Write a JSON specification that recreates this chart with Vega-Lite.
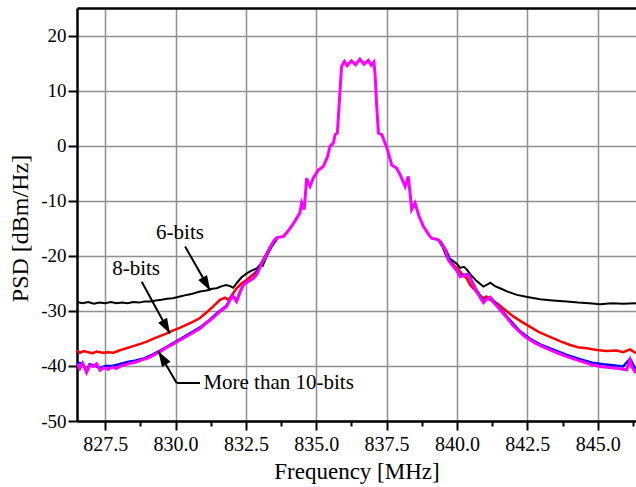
{
  "$schema": "https://vega.github.io/schema/vega-lite/v6.json",
  "width": 559,
  "height": 413,
  "autosize": "none",
  "padding": {"left": 77, "top": 8, "right": 0, "bottom": 66},
  "background": "white",
  "config": {"view": {"stroke": null}, "font": "Liberation Serif"},
  "datasets": {
    "curves": [
      {"s":"k","g":"L","f":826.5,"v":-28.4},{"s":"k","g":"L","f":826.7,"v":-28.6},{"s":"k","g":"L","f":826.9,"v":-28.4},{"s":"k","g":"L","f":827.1,"v":-28.7},{"s":"k","g":"L","f":827.3,"v":-28.5},{"s":"k","g":"L","f":827.5,"v":-28.6},{"s":"k","g":"L","f":827.7,"v":-28.4},{"s":"k","g":"L","f":827.9,"v":-28.6},{"s":"k","g":"L","f":828.1,"v":-28.5},{"s":"k","g":"L","f":828.3,"v":-28.6},{"s":"k","g":"L","f":828.5,"v":-28.4},{"s":"k","g":"L","f":828.7,"v":-28.5},{"s":"k","g":"L","f":828.9,"v":-28.3},{"s":"k","g":"L","f":829.1,"v":-28.3},{"s":"k","g":"L","f":829.3,"v":-28.1},{"s":"k","g":"L","f":829.5,"v":-28.0},{"s":"k","g":"L","f":829.7,"v":-27.8},{"s":"k","g":"L","f":829.9,"v":-27.7},{"s":"k","g":"L","f":830.16,"v":-27.4},{"s":"k","g":"L","f":830.4,"v":-27.1},{"s":"k","g":"L","f":830.6,"v":-26.9},{"s":"k","g":"L","f":830.87,"v":-26.5},{"s":"k","g":"L","f":831.1,"v":-26.3},{"s":"k","g":"L","f":831.3,"v":-26.0},{"s":"k","g":"L","f":831.46,"v":-25.9},{"s":"k","g":"L","f":831.65,"v":-25.5},{"s":"k","g":"L","f":831.8,"v":-25.3},{"s":"k","g":"L","f":831.94,"v":-25.5},{"s":"k","g":"L","f":832.05,"v":-25.8},{"s":"k","g":"L","f":832.2,"v":-24.8},{"s":"k","g":"L","f":832.35,"v":-23.9},{"s":"k","g":"L","f":832.53,"v":-23.2},{"s":"k","g":"L","f":832.7,"v":-22.7},{"s":"k","g":"L","f":832.89,"v":-22.3},{"s":"k","g":"L","f":833.0,"v":-21.6},{"s":"k","g":"L","f":833.1,"v":-21.8},{"s":"k","g":"L","f":833.24,"v":-20.1},{"s":"k","g":"L","f":833.4,"v":-18.5},{"s":"k","g":"L","f":833.6,"v":-17.0},
      {"s":"k","g":"R","f":839.35,"v":-17.2},{"s":"k","g":"R","f":839.5,"v":-18.5},{"s":"k","g":"R","f":839.64,"v":-20.3},{"s":"k","g":"R","f":839.8,"v":-20.7},{"s":"k","g":"R","f":840.0,"v":-21.5},{"s":"k","g":"R","f":840.11,"v":-22.2},{"s":"k","g":"R","f":840.25,"v":-22.0},{"s":"k","g":"R","f":840.35,"v":-22.5},{"s":"k","g":"R","f":840.5,"v":-23.5},{"s":"k","g":"R","f":840.7,"v":-24.6},{"s":"k","g":"R","f":840.94,"v":-25.6},{"s":"k","g":"R","f":841.05,"v":-25.3},{"s":"k","g":"R","f":841.18,"v":-24.9},{"s":"k","g":"R","f":841.35,"v":-25.5},{"s":"k","g":"R","f":841.53,"v":-25.9},{"s":"k","g":"R","f":841.8,"v":-26.5},{"s":"k","g":"R","f":842.13,"v":-27.1},{"s":"k","g":"R","f":842.5,"v":-27.5},{"s":"k","g":"R","f":842.95,"v":-27.9},{"s":"k","g":"R","f":843.4,"v":-28.1},{"s":"k","g":"R","f":843.9,"v":-28.3},{"s":"k","g":"R","f":844.3,"v":-28.5},{"s":"k","g":"R","f":844.7,"v":-28.6},{"s":"k","g":"R","f":845.09,"v":-28.8},{"s":"k","g":"R","f":845.5,"v":-28.6},{"s":"k","g":"R","f":845.9,"v":-28.7},{"s":"k","g":"R","f":846.36,"v":-28.6},

      {"s":"r","g":"L","f":826.5,"v":-37.2},{"s":"r","g":"L","f":826.6,"v":-37.6},{"s":"r","g":"L","f":826.75,"v":-37.3},{"s":"r","g":"L","f":826.9,"v":-37.5},{"s":"r","g":"L","f":827.05,"v":-37.7},{"s":"r","g":"L","f":827.2,"v":-37.4},{"s":"r","g":"L","f":827.4,"v":-37.6},{"s":"r","g":"L","f":827.6,"v":-37.5},{"s":"r","g":"L","f":827.8,"v":-37.6},{"s":"r","g":"L","f":828.0,"v":-37.2},{"s":"r","g":"L","f":828.26,"v":-36.8},{"s":"r","g":"L","f":828.5,"v":-36.4},{"s":"r","g":"L","f":828.75,"v":-36.0},{"s":"r","g":"L","f":828.98,"v":-35.6},{"s":"r","g":"L","f":829.2,"v":-35.1},{"s":"r","g":"L","f":829.45,"v":-34.6},{"s":"r","g":"L","f":829.69,"v":-34.1},{"s":"r","g":"L","f":829.9,"v":-33.6},{"s":"r","g":"L","f":830.15,"v":-33.1},{"s":"r","g":"L","f":830.4,"v":-32.5},{"s":"r","g":"L","f":830.65,"v":-31.9},{"s":"r","g":"L","f":830.87,"v":-31.3},{"s":"r","g":"L","f":831.1,"v":-30.3},{"s":"r","g":"L","f":831.34,"v":-29.2},{"s":"r","g":"L","f":831.58,"v":-28.0},{"s":"r","g":"L","f":831.76,"v":-27.6},{"s":"r","g":"L","f":831.88,"v":-28.0},{"s":"r","g":"L","f":832.0,"v":-27.2},{"s":"r","g":"L","f":832.17,"v":-25.9},{"s":"r","g":"L","f":832.35,"v":-25.0},{"s":"r","g":"L","f":832.53,"v":-24.4},{"s":"r","g":"L","f":832.7,"v":-23.6},{"s":"r","g":"L","f":832.89,"v":-22.8},{"s":"r","g":"L","f":833.05,"v":-21.4},{"s":"r","g":"L","f":833.2,"v":-20.0},{"s":"r","g":"L","f":833.36,"v":-18.4},{"s":"r","g":"L","f":833.6,"v":-16.9},
      {"s":"r","g":"R","f":839.4,"v":-17.4},{"s":"r","g":"R","f":839.6,"v":-18.9},{"s":"r","g":"R","f":839.75,"v":-20.8},{"s":"r","g":"R","f":839.9,"v":-21.8},{"s":"r","g":"R","f":840.05,"v":-22.5},{"s":"r","g":"R","f":840.2,"v":-23.4},{"s":"r","g":"R","f":840.35,"v":-24.1},{"s":"r","g":"R","f":840.47,"v":-25.3},{"s":"r","g":"R","f":840.65,"v":-26.3},{"s":"r","g":"R","f":840.8,"v":-27.2},{"s":"r","g":"R","f":840.94,"v":-27.7},{"s":"r","g":"R","f":841.05,"v":-27.4},{"s":"r","g":"R","f":841.18,"v":-28.0},{"s":"r","g":"R","f":841.41,"v":-28.6},{"s":"r","g":"R","f":841.7,"v":-29.8},{"s":"r","g":"R","f":842.0,"v":-31.0},{"s":"r","g":"R","f":842.3,"v":-32.0},{"s":"r","g":"R","f":842.6,"v":-32.9},{"s":"r","g":"R","f":842.9,"v":-33.8},{"s":"r","g":"R","f":843.2,"v":-34.5},{"s":"r","g":"R","f":843.43,"v":-35.0},{"s":"r","g":"R","f":843.7,"v":-35.6},{"s":"r","g":"R","f":844.02,"v":-36.2},{"s":"r","g":"R","f":844.3,"v":-36.6},{"s":"r","g":"R","f":844.6,"v":-36.8},{"s":"r","g":"R","f":844.97,"v":-37.1},{"s":"r","g":"R","f":845.3,"v":-37.3},{"s":"r","g":"R","f":845.68,"v":-37.2},{"s":"r","g":"R","f":845.9,"v":-37.5},{"s":"r","g":"R","f":846.15,"v":-37.0},{"s":"r","g":"R","f":846.36,"v":-37.7},

      {"s":"b","g":"L","f":826.5,"v":-39.4},{"s":"b","g":"L","f":826.7,"v":-39.6},{"s":"b","g":"L","f":826.84,"v":-40.9},{"s":"b","g":"L","f":826.95,"v":-39.7},{"s":"b","g":"L","f":827.1,"v":-39.9},{"s":"b","g":"L","f":827.32,"v":-40.4},{"s":"b","g":"L","f":827.5,"v":-40.0},{"s":"b","g":"L","f":827.75,"v":-40.0},{"s":"b","g":"L","f":828.0,"v":-39.7},{"s":"b","g":"L","f":828.3,"v":-39.3},{"s":"b","g":"L","f":828.6,"v":-39.0},{"s":"b","g":"L","f":828.9,"v":-38.6},{"s":"b","g":"L","f":829.2,"v":-37.9},{"s":"b","g":"L","f":829.45,"v":-37.2},{"s":"b","g":"L","f":829.7,"v":-36.5},{"s":"b","g":"L","f":830.0,"v":-35.6},{"s":"b","g":"L","f":830.3,"v":-34.7},{"s":"b","g":"L","f":830.6,"v":-33.8},{"s":"b","g":"L","f":830.9,"v":-32.9},{"s":"b","g":"L","f":831.2,"v":-31.7},{"s":"b","g":"L","f":831.5,"v":-30.3},{"s":"b","g":"L","f":831.8,"v":-29.1},{"s":"b","g":"L","f":832.03,"v":-27.2},{"s":"b","g":"L","f":832.17,"v":-28.1},{"s":"b","g":"L","f":832.41,"v":-25.2},{"s":"b","g":"L","f":832.77,"v":-24.0},{"s":"b","g":"L","f":833.05,"v":-21.4},{"s":"b","g":"L","f":833.36,"v":-18.5},{"s":"b","g":"L","f":833.6,"v":-16.8},
      {"s":"b","g":"R","f":839.4,"v":-17.3},{"s":"b","g":"R","f":839.6,"v":-19.0},{"s":"b","g":"R","f":839.85,"v":-21.7},{"s":"b","g":"R","f":840.11,"v":-23.6},{"s":"b","g":"R","f":840.4,"v":-23.3},{"s":"b","g":"R","f":840.7,"v":-26.3},{"s":"b","g":"R","f":840.94,"v":-28.2},{"s":"b","g":"R","f":841.18,"v":-27.5},{"s":"b","g":"R","f":841.45,"v":-29.1},{"s":"b","g":"R","f":841.8,"v":-31.2},{"s":"b","g":"R","f":842.2,"v":-33.5},{"s":"b","g":"R","f":842.6,"v":-35.1},{"s":"b","g":"R","f":843.0,"v":-36.2},{"s":"b","g":"R","f":843.4,"v":-37.0},{"s":"b","g":"R","f":843.9,"v":-38.0},{"s":"b","g":"R","f":844.4,"v":-38.8},{"s":"b","g":"R","f":844.8,"v":-39.4},{"s":"b","g":"R","f":845.2,"v":-39.7},{"s":"b","g":"R","f":845.6,"v":-39.9},{"s":"b","g":"R","f":845.9,"v":-40.1},{"s":"b","g":"R","f":846.15,"v":-38.7},{"s":"b","g":"R","f":846.36,"v":-40.8},

      {"s":"m","g":"A","f":826.5,"v":-39.6},{"s":"m","g":"A","f":826.6,"v":-40.5},{"s":"m","g":"A","f":826.7,"v":-39.5},{"s":"m","g":"A","f":826.84,"v":-41.2},{"s":"m","g":"A","f":826.95,"v":-39.9},{"s":"m","g":"A","f":827.08,"v":-40.1},{"s":"m","g":"A","f":827.2,"v":-39.6},{"s":"m","g":"A","f":827.32,"v":-40.8},{"s":"m","g":"A","f":827.45,"v":-40.3},{"s":"m","g":"A","f":827.6,"v":-40.6},{"s":"m","g":"A","f":827.75,"v":-40.2},{"s":"m","g":"A","f":827.9,"v":-40.5},{"s":"m","g":"A","f":828.05,"v":-40.0},{"s":"m","g":"A","f":828.2,"v":-39.8},{"s":"m","g":"A","f":828.4,"v":-39.5},{"s":"m","g":"A","f":828.6,"v":-39.3},{"s":"m","g":"A","f":828.8,"v":-38.9},{"s":"m","g":"A","f":829.0,"v":-38.6},{"s":"m","g":"A","f":829.2,"v":-38.1},{"s":"m","g":"A","f":829.45,"v":-37.4},{"s":"m","g":"A","f":829.7,"v":-36.6},{"s":"m","g":"A","f":829.9,"v":-36.1},{"s":"m","g":"A","f":830.16,"v":-35.3},{"s":"m","g":"A","f":830.4,"v":-34.6},{"s":"m","g":"A","f":830.6,"v":-34.0},{"s":"m","g":"A","f":830.87,"v":-33.2},{"s":"m","g":"A","f":831.1,"v":-32.2},{"s":"m","g":"A","f":831.35,"v":-31.2},{"s":"m","g":"A","f":831.58,"v":-30.1},{"s":"m","g":"A","f":831.8,"v":-29.3},{"s":"m","g":"A","f":831.95,"v":-27.9},{"s":"m","g":"A","f":832.03,"v":-27.3},{"s":"m","g":"A","f":832.17,"v":-28.3},{"s":"m","g":"A","f":832.3,"v":-26.5},{"s":"m","g":"A","f":832.41,"v":-25.3},{"s":"m","g":"A","f":832.6,"v":-24.6},{"s":"m","g":"A","f":832.77,"v":-24.1},{"s":"m","g":"A","f":832.9,"v":-23.3},{"s":"m","g":"A","f":833.05,"v":-21.5},{"s":"m","g":"A","f":833.2,"v":-20.2},{"s":"m","g":"A","f":833.36,"v":-18.5},{"s":"m","g":"A","f":833.5,"v":-17.2},{"s":"m","g":"A","f":833.6,"v":-16.7},{"s":"m","g":"A","f":833.83,"v":-16.5},{"s":"m","g":"A","f":834.0,"v":-15.5},{"s":"m","g":"A","f":834.19,"v":-14.1},{"s":"m","g":"A","f":834.35,"v":-12.8},{"s":"m","g":"A","f":834.42,"v":-12.2},{"s":"m","g":"A","f":834.48,"v":-10.4},{"s":"m","g":"A","f":834.57,"v":-11.6},{"s":"m","g":"A","f":834.66,"v":-5.9},{"s":"m","g":"A","f":834.72,"v":-6.8},{"s":"m","g":"A","f":834.78,"v":-7.4},{"s":"m","g":"A","f":834.9,"v":-5.8},{"s":"m","g":"A","f":835.08,"v":-4.4},{"s":"m","g":"A","f":835.25,"v":-3.8},{"s":"m","g":"A","f":835.4,"v":-2.0},{"s":"m","g":"A","f":835.49,"v":-0.1},{"s":"m","g":"A","f":835.61,"v":0.5},{"s":"m","g":"A","f":835.67,"v":2.0},{"s":"m","g":"A","f":835.75,"v":2.3},{"s":"m","g":"A","f":835.82,"v":8.0},{"s":"m","g":"A","f":835.9,"v":14.4},{"s":"m","g":"A","f":836.0,"v":15.3},{"s":"m","g":"A","f":836.1,"v":14.5},{"s":"m","g":"A","f":836.25,"v":15.4},{"s":"m","g":"A","f":836.4,"v":14.7},{"s":"m","g":"A","f":836.55,"v":15.7},{"s":"m","g":"A","f":836.7,"v":14.8},{"s":"m","g":"A","f":836.85,"v":15.5},{"s":"m","g":"A","f":836.95,"v":14.6},{"s":"m","g":"A","f":837.05,"v":15.2},{"s":"m","g":"A","f":837.09,"v":12.9},{"s":"m","g":"A","f":837.15,"v":7.0},{"s":"m","g":"A","f":837.21,"v":2.3},{"s":"m","g":"A","f":837.33,"v":2.0},{"s":"m","g":"A","f":837.51,"v":-0.4},{"s":"m","g":"A","f":837.6,"v":-2.0},{"s":"m","g":"A","f":837.68,"v":-3.5},{"s":"m","g":"A","f":837.86,"v":-4.1},{"s":"m","g":"A","f":838.0,"v":-5.5},{"s":"m","g":"A","f":838.16,"v":-7.4},{"s":"m","g":"A","f":838.27,"v":-5.6},{"s":"m","g":"A","f":838.33,"v":-8.5},{"s":"m","g":"A","f":838.39,"v":-11.6},{"s":"m","g":"A","f":838.51,"v":-10.4},{"s":"m","g":"A","f":838.65,"v":-12.8},{"s":"m","g":"A","f":838.81,"v":-14.7},{"s":"m","g":"A","f":839.0,"v":-16.2},{"s":"m","g":"A","f":839.1,"v":-16.8},{"s":"m","g":"A","f":839.34,"v":-17.1},{"s":"m","g":"A","f":839.58,"v":-18.9},{"s":"m","g":"A","f":839.7,"v":-20.8},{"s":"m","g":"A","f":839.85,"v":-21.8},{"s":"m","g":"A","f":840.0,"v":-22.6},{"s":"m","g":"A","f":840.11,"v":-23.8},{"s":"m","g":"A","f":840.25,"v":-23.6},{"s":"m","g":"A","f":840.4,"v":-23.4},{"s":"m","g":"A","f":840.5,"v":-24.5},{"s":"m","g":"A","f":840.7,"v":-26.5},{"s":"m","g":"A","f":840.85,"v":-27.8},{"s":"m","g":"A","f":840.94,"v":-28.5},{"s":"m","g":"A","f":841.05,"v":-27.9},{"s":"m","g":"A","f":841.18,"v":-27.6},{"s":"m","g":"A","f":841.3,"v":-28.5},{"s":"m","g":"A","f":841.45,"v":-29.3},{"s":"m","g":"A","f":841.6,"v":-30.2},{"s":"m","g":"A","f":841.8,"v":-31.4},{"s":"m","g":"A","f":842.0,"v":-32.7},{"s":"m","g":"A","f":842.2,"v":-33.7},{"s":"m","g":"A","f":842.4,"v":-34.6},{"s":"m","g":"A","f":842.6,"v":-35.3},{"s":"m","g":"A","f":842.8,"v":-35.9},{"s":"m","g":"A","f":843.0,"v":-36.4},{"s":"m","g":"A","f":843.3,"v":-37.1},{"s":"m","g":"A","f":843.6,"v":-37.7},{"s":"m","g":"A","f":843.9,"v":-38.3},{"s":"m","g":"A","f":844.2,"v":-38.8},{"s":"m","g":"A","f":844.5,"v":-39.3},{"s":"m","g":"A","f":844.8,"v":-39.8},{"s":"m","g":"A","f":845.1,"v":-40.1},{"s":"m","g":"A","f":845.4,"v":-40.3},{"s":"m","g":"A","f":845.68,"v":-40.4},{"s":"m","g":"A","f":845.9,"v":-40.6},{"s":"m","g":"A","f":846.03,"v":-40.7},{"s":"m","g":"A","f":846.1,"v":-39.6},{"s":"m","g":"A","f":846.15,"v":-38.9},{"s":"m","g":"A","f":846.22,"v":-40.2},{"s":"m","g":"A","f":846.36,"v":-41.3}
    ],
    "notes": [
      {"f": 830.16, "v": -15.9, "label": "6-bits", "al": "c"},
      {"f": 828.6, "v": -22.4, "label": "8-bits", "al": "c"},
      {"f": 830.99, "v": -43.1, "label": "More than 10-bits", "al": "l"}
    ],
    "arrows": [
      {"f": 830.34, "v": -18.3, "f2": 831.23, "v2": -26.3},
      {"f": 828.8, "v": -24.7, "f2": 829.8, "v2": -34.1},
      {"f": 829.39, "v": -37.4, "f2": 830.04, "v2": -43.1},
      {"f": 830.04, "v": -43.1, "f2": 830.87, "v2": -43.1}
    ],
    "heads": [
      {"f": 831.23, "v": -26.3, "id": "a6"},
      {"f": 829.8, "v": -34.1, "id": "a8"},
      {"f": 829.39, "v": -37.4, "id": "a10"}
    ]
  },
  "layer": [
    {
      "data": {"name": "curves"},
      "transform": [{"filter": "datum.s == 'k'"}],
      "mark": {"type": "line", "color": "#000000", "strokeWidth": 2, "clip": true},
      "encoding": {
        "x": {"field": "f", "type": "quantitative",
          "scale": {"domain": [826.5, 846.36], "nice": false, "zero": false},
          "axis": {
            "orient": "bottom",
            "title": "Frequency [MHz]",
            "titleFont": "Liberation Serif", "titleFontSize": 23, "titleFontWeight": "normal", "titleColor": "#000",
            "titlePadding": 6,
            "values": [827.5,828.75,830,831.25,832.5,833.75,835,836.25,837.5,838.75,840,841.25,842.5,843.75,845,846.25],
            "labelExpr": "abs((datum.value*2) % 5) < 0.01 ? format(datum.value, '.1f') : ''",
            "labelFont": "Liberation Serif", "labelFontSize": 20, "labelColor": "#000", "labelPadding": 4,
            "labelFlush": false, "labelOverlap": false,
            "domainColor": "#000", "domainWidth": 2.5,
            "tickColor": "#000", "tickWidth": 2,
            "tickSize": {"condition": {"test": "abs((datum.value*2) % 5) < 0.01", "value": 9}, "value": 5},
            "grid": true, "gridColor": "#8f8f8f", "gridWidth": 1.5,
            "gridOpacity": {"condition": {"test": "abs((datum.value*2) % 5) < 0.01", "value": 1}, "value": 0}
          }
        },
        "y": {"field": "v", "type": "quantitative",
          "scale": {"domain": [-50, 25], "nice": false, "zero": false},
          "axis": {
            "title": "PSD [dBm/Hz]",
            "titleFont": "Liberation Serif", "titleFontSize": 24, "titleFontWeight": "normal", "titleColor": "#000",
            "titlePadding": 8, "titleY": 220,
            "values": [-50,-45,-40,-35,-30,-25,-20,-15,-10,-5,0,5,10,15,20],
            "labelExpr": "datum.value % 10 == 0 ? '' + datum.value : ''",
            "labelFont": "Liberation Serif", "labelFontSize": 19, "labelColor": "#000", "labelPadding": 2,
            "labelFlush": false, "labelOverlap": false,
            "domainColor": "#000", "domainWidth": 2.5,
            "tickColor": "#000", "tickWidth": 2,
            "tickSize": {"condition": {"test": "datum.value % 10 == 0", "value": 9}, "value": 5},
            "grid": true, "gridColor": "#8f8f8f", "gridWidth": 1.5,
            "gridOpacity": {"condition": {"test": "datum.value % 10 == 0", "value": 1}, "value": 0}
          }
        },
        "detail": {"field": "g"}
      }
    },
    {
      "data": {"name": "curves"},
      "transform": [{"filter": "datum.s == 'r'"}],
      "mark": {"type": "line", "color": "#ff0000", "strokeWidth": 2.5, "clip": true},
      "encoding": {
        "x": {"field": "f", "type": "quantitative", "axis": null},
        "y": {"field": "v", "type": "quantitative"},
        "detail": {"field": "g"}
      }
    },
    {
      "data": {"name": "curves"},
      "transform": [{"filter": "datum.s == 'b'"}],
      "mark": {"type": "line", "color": "#0000ff", "strokeWidth": 2.5, "clip": true},
      "encoding": {
        "x": {"field": "f", "type": "quantitative", "axis": null},
        "y": {"field": "v", "type": "quantitative"},
        "detail": {"field": "g"}
      }
    },
    {
      "data": {"name": "curves"},
      "transform": [{"filter": "datum.s == 'm'"}],
      "mark": {"type": "line", "color": "#ff00ff", "strokeWidth": 3, "clip": true},
      "encoding": {
        "x": {"field": "f", "type": "quantitative",
          "axis": {"orient": "top", "labels": false, "ticks": false, "grid": false, "title": null, "domainColor": "#000", "domainWidth": 2.5}},
        "y": {"field": "v", "type": "quantitative"},
        "detail": {"field": "g"}
      }
    },
    {
      "data": {"name": "arrows"},
      "mark": {"type": "rule", "color": "#000", "strokeWidth": 2},
      "encoding": {
        "x": {"field": "f", "type": "quantitative", "axis": null},
        "y": {"field": "v", "type": "quantitative"},
        "x2": {"field": "f2"},
        "y2": {"field": "v2"}
      }
    },
    {
      "data": {"name": "heads"},
      "transform": [{"filter": "datum.id == 'a6'"}],
      "mark": {"type": "point", "shape": "M0,0L-0.34,1L0.34,1Z", "filled": true, "color": "#000", "opacity": 1, "size": 900, "angle": 150, "strokeWidth": 0},
      "encoding": {
        "x": {"field": "f", "type": "quantitative", "axis": null},
        "y": {"field": "v", "type": "quantitative"}
      }
    },
    {
      "data": {"name": "heads"},
      "transform": [{"filter": "datum.id == 'a8'"}],
      "mark": {"type": "point", "shape": "M0,0L-0.34,1L0.34,1Z", "filled": true, "color": "#000", "opacity": 1, "size": 900, "angle": 151, "strokeWidth": 0},
      "encoding": {
        "x": {"field": "f", "type": "quantitative", "axis": null},
        "y": {"field": "v", "type": "quantitative"}
      }
    },
    {
      "data": {"name": "heads"},
      "transform": [{"filter": "datum.id == 'a10'"}],
      "mark": {"type": "point", "shape": "M0,0L-0.34,1L0.34,1Z", "filled": true, "color": "#000", "opacity": 1, "size": 900, "angle": 328, "strokeWidth": 0},
      "encoding": {
        "x": {"field": "f", "type": "quantitative", "axis": null},
        "y": {"field": "v", "type": "quantitative"}
      }
    },
    {
      "data": {"name": "notes"},
      "transform": [{"filter": "datum.al == 'c'"}],
      "mark": {"type": "text", "font": "Liberation Serif", "fontSize": 21, "color": "#000", "align": "center", "baseline": "middle"},
      "encoding": {
        "x": {"field": "f", "type": "quantitative", "axis": null},
        "y": {"field": "v", "type": "quantitative"},
        "text": {"field": "label"}
      }
    },
    {
      "data": {"name": "notes"},
      "transform": [{"filter": "datum.al == 'l'"}],
      "mark": {"type": "text", "font": "Liberation Serif", "fontSize": 21, "color": "#000", "align": "left", "baseline": "middle"},
      "encoding": {
        "x": {"field": "f", "type": "quantitative", "axis": null},
        "y": {"field": "v", "type": "quantitative"},
        "text": {"field": "label"}
      }
    }
  ],
  "resolve": {"axis": {"x": "independent"}}
}
